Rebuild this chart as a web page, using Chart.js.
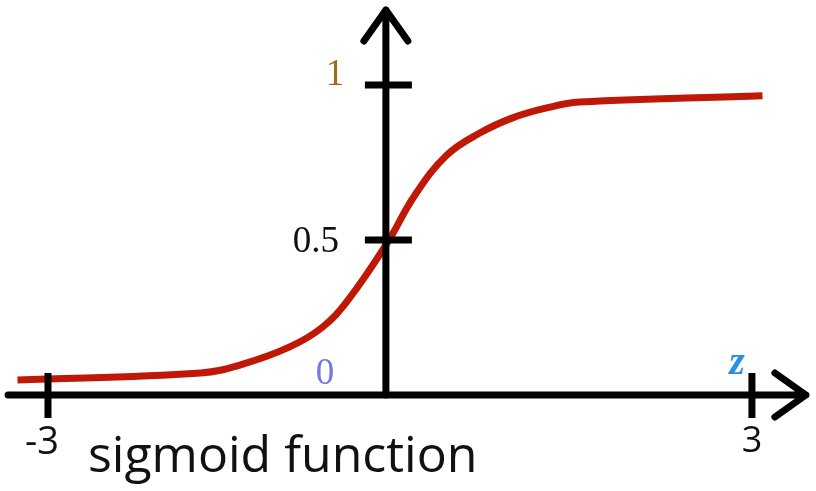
<!DOCTYPE html>
<html>
<head>
<meta charset="utf-8">
<script src="https://cdn.jsdelivr.net/npm/chart.js@4/dist/chart.umd.min.js"></script>
<style>
  body { margin: 0; background: #fff; }
  #wrap { width: 816px; height: 491px; position: relative; }
</style>
</head>
<body>
<div id="wrap"><canvas id="sigmoidChart"></canvas></div>
<script>
// curve (z, sigmoid(z))
let zValues = [-3.26, -1.70, -1.36, -0.94, -0.66, -0.443, -0.119, 0.128, 0.40, 0.68, 0.96, 1.25, 1.53, 3.09]
let sValues = [0.048, 0.071, 0.097, 0.155, 0.219, 0.306, 0.484, 0.645, 0.774, 0.845, 0.894, 0.926, 0.945, 0.965]

let xTicks = [-3, 3]
let xTickLabels = ["-3", "3"]
let yTicks = [1, 0.5]
let yTickLabels = ["1", "0.5"]
let originLabel = "0"
let axisName = "z"
let title = "sigmoid function"

let pts = zValues.map(function (z, i) { return { x: z, y: sValues[i] } })

// hand drawn y-axis does not sit exactly on z = 0
let yAxisAtZ = -0.12

let axesPlugin = {
    id: 'axes',
    afterDatasetsDraw: function (chart) {
        let ctx = chart.ctx
        let xs = chart.scales.x
        let ys = chart.scales.y
        let ax = xs.getPixelForValue(yAxisAtZ)
        let ay = ys.getPixelForValue(0)

        ctx.save()
        ctx.strokeStyle = '#000'
        ctx.lineWidth = 7
        ctx.lineCap = 'round'
        ctx.lineJoin = 'round'

        // x axis + arrow
        let xEnd = xs.getPixelForValue(3.46)
        ctx.beginPath()
        ctx.moveTo(xs.getPixelForValue(-3.34), ay)
        ctx.lineTo(xEnd, ay)
        ctx.moveTo(xEnd - 31, ay - 22)
        ctx.lineTo(xEnd, ay)
        ctx.lineTo(xEnd - 31, ay + 22)
        ctx.stroke()

        // y axis + arrow
        let yEnd = ys.getPixelForValue(1.242)
        ctx.beginPath()
        ctx.moveTo(ax, ay)
        ctx.lineTo(ax, yEnd)
        ctx.moveTo(ax - 22, yEnd + 31)
        ctx.lineTo(ax, yEnd)
        ctx.lineTo(ax + 22, yEnd + 31)
        ctx.stroke()

        // tick marks
        ctx.lineCap = 'butt'
        ctx.beginPath()
        xTicks.forEach(function (v) {
            let px = xs.getPixelForValue(v)
            ctx.moveTo(px, ay - 22)
            ctx.lineTo(px, ay + 23)
        })
        yTicks.forEach(function (v) {
            let py = ys.getPixelForValue(v)
            ctx.moveTo(ax - 21, py)
            ctx.lineTo(ax + 26, py)
        })
        ctx.stroke()

        // tick labels
        ctx.textAlign = 'center'
        ctx.textBaseline = 'middle'
        ctx.fillStyle = '#111'
        ctx.font = '38px "Open Sans"'
        ctx.fillText(xTickLabels[0], xs.getPixelForValue(xTicks[0]) - 6, ay + 48)
        ctx.font = '36px "Open Sans"'
        ctx.fillText(xTickLabels[1], xs.getPixelForValue(xTicks[1]), ay + 47)

        ctx.font = '37px "Liberation Serif"'
        ctx.fillStyle = '#9c6e1c'
        ctx.fillText(yTickLabels[0], ax - 51, ys.getPixelForValue(yTicks[0]) - 10)
        ctx.fillStyle = '#111'
        ctx.fillText(yTickLabels[1], ax - 70, ys.getPixelForValue(yTicks[1]) + 2)
        ctx.fillStyle = '#7478e4'
        ctx.fillText(originLabel, ax - 61, ay - 21)

        ctx.font = 'italic bold 40px "Liberation Serif"'
        ctx.fillStyle = '#2b8fe2'
        ctx.fillText(axisName, xs.getPixelForValue(xTicks[1]) - 15, ay - 31)

        ctx.font = '50px "Open Sans"'
        ctx.fillStyle = '#111'
        ctx.textAlign = 'left'
        ctx.textBaseline = 'alphabetic'
        ctx.fillText(title, 88, 472)
        ctx.restore()
    }
}

let ctx = document.getElementById('sigmoidChart').getContext('2d')
let chart = new Chart(ctx, {
    type: 'line',
    data: {
        datasets: [{
            label: 'sigmoid',
            data: pts,
            borderColor: 'rgb(192, 24, 6)',
            borderWidth: 7,
            pointRadius: 0,
            tension: 0.4,
            borderCapStyle: 'butt',
            fill: false
        }]
    },
    options: {
        responsive: true,
        maintainAspectRatio: false,
        animation: false,
        layout: { padding: 0 },
        plugins: { legend: { display: false }, tooltip: { enabled: false } },
        scales: {
            x: { type: 'linear', display: false, min: -3.409, max: 3.546 },
            y: { type: 'linear', display: false, min: -0.3097, max: 1.2742 }
        }
    },
    plugins: [axesPlugin]
})
</script>
</body>
</html>
